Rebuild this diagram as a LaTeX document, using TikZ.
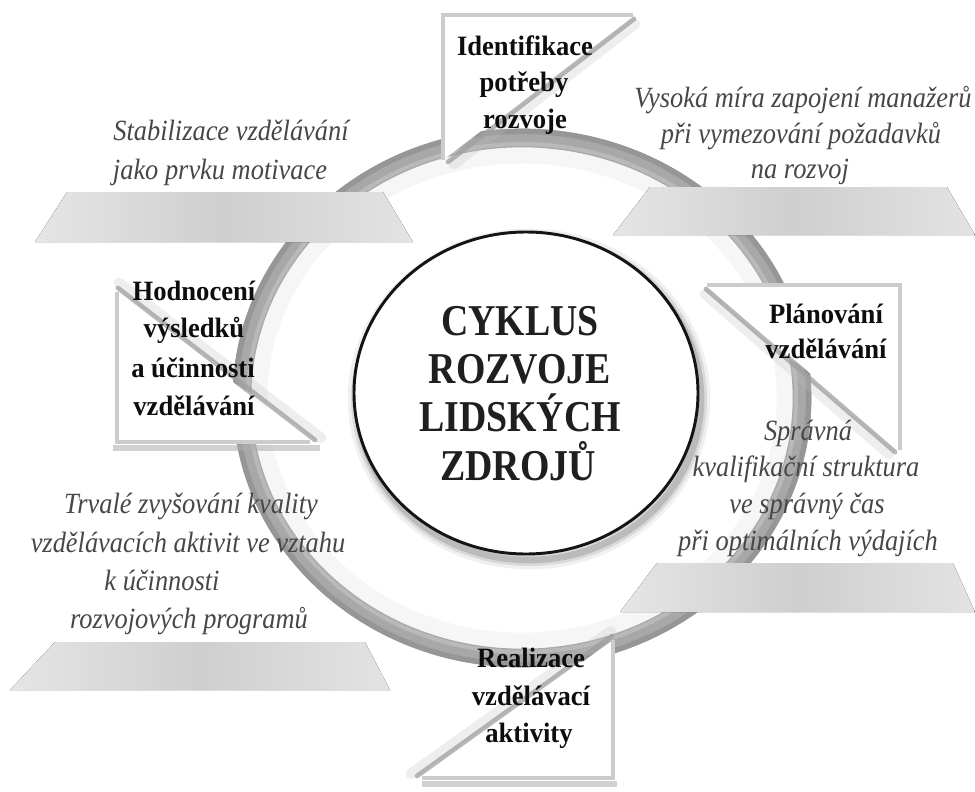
\documentclass[tikz,border=0pt]{standalone}
\usepackage{fontspec}
\setmainfont{Liberation Serif}
\newfontfamily\corefont[FakeStretch=0.86]{Liberation Serif}
\newfontfamily\notefont[FakeStretch=0.9]{Liberation Serif}
\newfontfamily\labfont[FakeStretch=0.95]{Liberation Serif}
\usetikzlibrary{calc}
\begin{document}
\begin{tikzpicture}[x=0.75pt,y=-0.75pt,
  lab/.style={font=\labfont\fontsize{21}{24}\selectfont\bfseries, text=black!95, anchor=base, inner sep=0pt},
  note/.style={font=\notefont\fontsize{22}{24}\selectfont\itshape, text=black!72, anchor=base, inner sep=0pt},
  core/.style={font=\corefont\fontsize{33}{40}\selectfont\bfseries, text=black!88, anchor=base, inner sep=0pt},
  plate/.style={draw=none, left color=gray!20, right color=gray!22, middle color=gray!38},
  whitetri/.style={fill=white, draw=none},
  rim/.style={draw=gray!40, line width=2.6pt, line join=miter},
  diagshade/.style={draw=gray!75, line width=3.5pt, opacity=0.75, line cap=round},
  diagsoft/.style={draw=gray!50, line width=8pt, opacity=0.25, line cap=round},
  edgeshade/.style={draw=gray!65, line width=4pt, opacity=0.55}
]
\useasboundingbox (0,0) rectangle (975,792);
\fill[white] (0,0) rectangle (975,792);

% ---- outer ring (tube) ----
\coordinate (rc) at (522,398);
\draw[gray!7, line width=14pt] (rc) ellipse [x radius=198pt, y radius=183pt];
\draw[gray!68, line width=14pt] (rc) ellipse [x radius=210pt, y radius=195pt];
\draw[gray!82, line width=4pt] (rc) ellipse [x radius=215pt, y radius=200pt];
\draw[gray!55, line width=3pt] (rc) ellipse [x radius=205.5pt, y radius=190.5pt];

% ---- inner circle ----
\coordinate (ic) at (526,393);
\foreach \o/\w in {0.06/14pt,0.09/9pt,0.14/5pt}{
  \draw[black, opacity=\o, line width=\w] ($(ic)+(3,6)$) ellipse [x radius=129pt, y radius=120.75pt];
}
\fill[white] (ic) ellipse [x radius=129pt, y radius=120.75pt];
\draw[black!92, line width=2.2pt] (ic) ellipse [x radius=129pt, y radius=120.75pt];

% ---- grey plates ----
\fill[plate] (67,192) -- (383,192) -- (413,242) -- (35,242) -- cycle;
\fill[plate] (650,187) -- (947,187) -- (975,235) -- (613,235) -- cycle;
\fill[plate] (657,563) -- (953,563) -- (975,612) -- (620,612) -- cycle;
\fill[plate] (55,642) -- (365,642) -- (390,690) -- (10,690) -- cycle;

% ---- box 1: Identifikace ----
\coordinate (b1tl) at (443,15); \coordinate (b1tr) at (633,15); \coordinate (b1bl) at (443,160);
\draw[diagsoft] ($(b1tr)+(2,9)$) -- ($(b1bl)+(11,4)$);
\draw[diagshade] ($(b1tr)+(1,4)$) -- ($(b1bl)+(5,2)$);
\fill[whitetri] (b1tl) -- (b1tr) -- (b1bl) -- cycle;
\draw[rim] (b1bl) -- (b1tl) -- (b1tr);

% ---- box 2: Planovani ----
\coordinate (b2tl) at (707,285); \coordinate (b2tr) at (900,285); \coordinate (b2br) at (900,450);
\draw[diagsoft] ($(b2tl)+(-2,9)$) -- ($(b2br)+(-11,4)$);
\draw[diagshade] ($(b2tl)+(-1,4)$) -- ($(b2br)+(-5,2)$);
\fill[whitetri] (b2tl) -- (b2tr) -- (b2br) -- cycle;
\draw[rim] (b2tl) -- (b2tr) -- (b2br);

% ---- box 3: Hodnoceni ----
\coordinate (b3tl) at (117,292); \coordinate (b3bl) at (117,442); \coordinate (b3br) at (310,442);
\draw[diagsoft] ($(b3tl)+(2,-9)$) -- ($(b3br)+(11,-4)$);
\draw[diagshade] ($(b3tl)+(1,-4)$) -- ($(b3br)+(5,-2)$);
\draw[edgeshade] ($(b3bl)+(-4,6)$) -- ($(b3br)+(10,6)$);
\fill[whitetri] (b3tl) -- (b3bl) -- (b3br) -- cycle;
\draw[rim] (b3tl) -- (b3bl) -- (b3br);

% ---- box 4: Realizace ----
\coordinate (b4tr) at (613,640); \coordinate (b4br) at (613,778); \coordinate (b4bl) at (422,778);
\draw[diagsoft] ($(b4tr)+(-2,-9)$) -- ($(b4bl)+(-11,-4)$);
\draw[diagshade] ($(b4tr)+(-1,-4)$) -- ($(b4bl)+(-5,-2)$);
\draw[edgeshade] ($(b4bl)+(0,6)$) -- ($(b4br)+(4,6)$);
\fill[whitetri] (b4tr) -- (b4br) -- (b4bl) -- cycle;
\draw[rim] (b4tr) -- (b4br) -- (b4bl);

% ---- centre text ----
\node[core] (c1) at (520,335) {CYKLUS};
\node[core] (c2) at (520,383) {ROZVOJE};
\node[core] (c3) at (520,431) {LIDSKÝCH};
\node[core] (c4) at (518,480) {ZDROJŮ};

% ---- box labels ----
\node[lab] (l1a) at (525,56) {Identifikace};
\node[lab] (l1b) at (524,92) {potřeby};
\node[lab] (l1c) at (525,128) {rozvoje};
\node[lab] (l2a) at (826,323) {Plánování};
\node[lab] (l2b) at (826,358) {vzdělávání};
\node[lab] (l3a) at (194,300) {Hodnocení};
\node[lab] (l3b) at (194,337) {výsledků};
\node[lab] (l3c) at (193,377) {a účinnosti};
\node[lab] (l3d) at (194,415) {vzdělávání};
\node[lab] (l4a) at (531,667) {Realizace};
\node[lab] (l4b) at (531,705) {vzdělávací};
\node[lab] (l4c) at (529,742) {aktivity};

% ---- italic notes ----
\node[note] (n1a) at (231,140) {Stabilizace vzdělávání};
\node[note] (n1b) at (220,179) {jako prvku motivace};
\node[note] (n2a) at (803,108) {Vysoká míra zapojení manažerů};
\node[note] (n2b) at (801,143) {při vymezování požadavků};
\node[note] (n2c) at (800,178) {na rozvoj};
\node[note] (n3a) at (808,440) {Správná};
\node[note] (n3b) at (806,476) {kvalifikační struktura};
\node[note] (n3c) at (807,513) {ve správný čas};
\node[note] (n3d) at (808,550) {při optimálních výdajích};
\node[note] (n4a) at (191,513) {Trvalé zvyšování kvality};
\node[note] (n4b) at (188,552) {vzdělávacích aktivit ve vztahu};
\node[note] (n4c) at (162,590) {k účinnosti};
\node[note] (n4d) at (189,628) {rozvojových programů};
\end{tikzpicture}
\end{document}
